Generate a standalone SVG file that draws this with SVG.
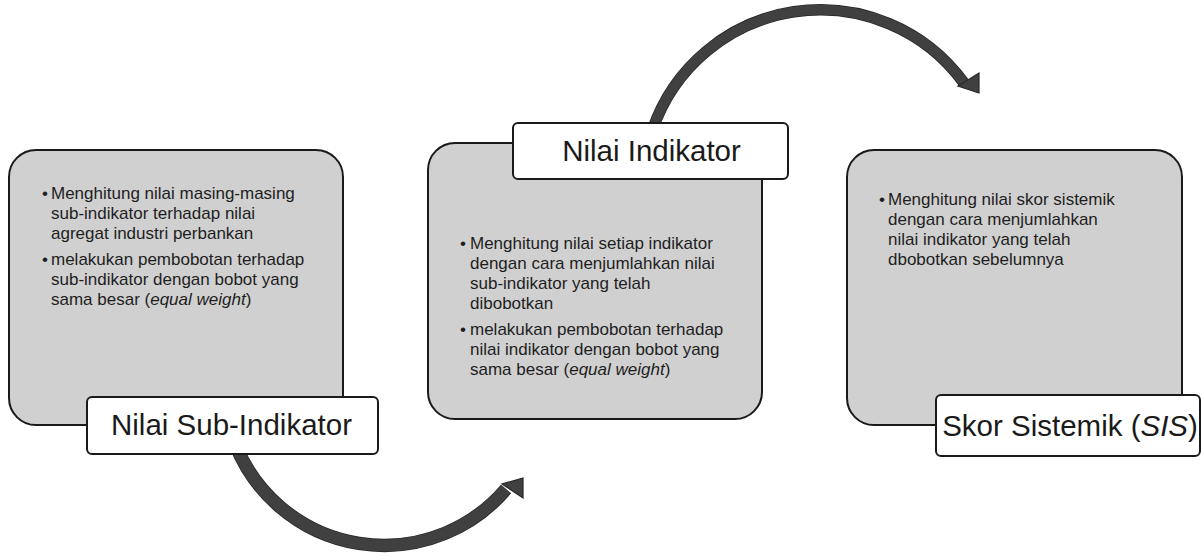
<svg xmlns="http://www.w3.org/2000/svg" width="1201" height="557" viewBox="0 0 1201 557">
<style>
.box{fill:#d0d0d0;stroke:#1a1a1a;stroke-width:2}
.lbl{fill:#ffffff;stroke:#1a1a1a;stroke-width:2}
.t{font-family:"Liberation Sans",Arial,sans-serif;font-size:17px;fill:#1e1e1e}
.bl{font-family:"Liberation Sans",Arial,sans-serif;font-size:17px;fill:#1e1e1e}
.h{font-family:"Liberation Sans",Arial,sans-serif;font-size:29.5px;fill:#1a1a1a;text-anchor:middle}
.shaft{fill:none;stroke:#404040}
.shaftO{fill:none;stroke:#262626}
.head{fill:#404040;stroke:#262626;stroke-width:1.2;stroke-linejoin:miter}
</style>
<g id="connectors">
  <path class="shaftO" stroke-width="13.5" d="M236,446 A160,160 0 0 0 506,489"/>
  <path class="shaft" stroke-width="12" d="M236,446 A160,160 0 0 0 506,489"/>
  <polygon class="head" points="523,478 523,498 502,484"/>
  <path class="shaftO" stroke-width="11.5" d="M652.4,130 A177.5,177.5 0 0 1 964,83"/>
  <path class="shaft" stroke-width="10" d="M652.4,130 A177.5,177.5 0 0 1 964,83"/>
  <polygon class="head" points="979,93 979,73 958,86"/>
</g>
<g id="node-sub-indikator">
  <rect class="box" x="9" y="150" width="334" height="275" rx="27"/>
  <text class="bl" x="42" y="199">•</text>
  <text class="t" x="51" y="199">Menghitung nilai masing-masing</text>
  <text class="t" x="51" y="219">sub-indikator terhadap nilai</text>
  <text class="t" x="51" y="239">agregat industri perbankan</text>
  <text class="bl" x="42" y="265">•</text>
  <text class="t" x="51" y="265">melakukan pembobotan terhadap</text>
  <text class="t" x="51" y="285">sub-indikator dengan bobot yang</text>
  <text class="t" x="51" y="305">sama besar (<tspan font-style="italic">equal weight</tspan>)</text>
  <rect class="lbl" x="87" y="397" width="291" height="57" rx="5"/>
  <text class="h" x="231.5" y="435">Nilai Sub-Indikator</text>
</g>
<g id="node-indikator">
  <rect class="box" x="428" y="143" width="334" height="276" rx="27"/>
  <text class="bl" x="460" y="249">•</text>
  <text class="t" x="470" y="249">Menghitung nilai setiap indikator</text>
  <text class="t" x="470" y="269">dengan cara menjumlahkan nilai</text>
  <text class="t" x="470" y="289">sub-indikator yang telah</text>
  <text class="t" x="470" y="309">dibobotkan</text>
  <text class="bl" x="460" y="335">•</text>
  <text class="t" x="470" y="335">melakukan pembobotan terhadap</text>
  <text class="t" x="470" y="355">nilai indikator dengan bobot yang</text>
  <text class="t" x="470" y="375">sama besar (<tspan font-style="italic">equal weight</tspan>)</text>
  <rect class="lbl" x="513" y="123" width="275" height="56" rx="5"/>
  <text class="h" x="651.5" y="161">Nilai Indikator</text>
</g>
<g id="node-skor-sistemik">
  <rect class="box" x="847" y="150" width="335" height="275" rx="27"/>
  <text class="bl" x="879" y="205">•</text>
  <text class="t" x="888" y="205">Menghitung nilai skor sistemik</text>
  <text class="t" x="888" y="225">dengan cara menjumlahkan</text>
  <text class="t" x="888" y="245">nilai indikator yang telah</text>
  <text class="t" x="888" y="265">dbobotkan sebelumnya</text>
  <rect class="lbl" x="936" y="395" width="264" height="61" rx="5"/>
  <text class="h" x="1070" y="436">Skor Sistemik (<tspan font-style="italic">SIS</tspan>)</text>
</g>
</svg>
